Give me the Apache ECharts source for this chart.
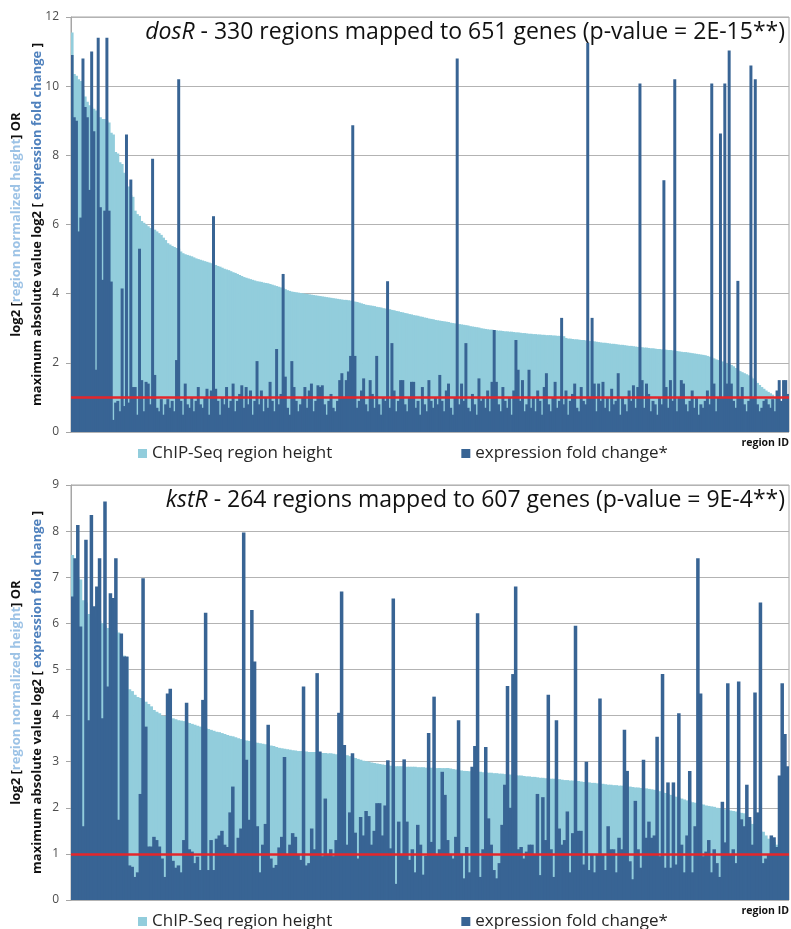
<!DOCTYPE html>
<html><head><meta charset="utf-8">
<script src="https://cdn.jsdelivr.net/npm/echarts@6/dist/echarts.min.js"></script>
<style>html,body{margin:0;padding:0;background:#fff}#c{width:791px;height:929px}</style>
</head><body><div id="c"></div>
<script>
// ---- dosR panel ----
const dosRHeight = [
11.55,10.35,10.3,10.2,10.15,9.9,9.7,9.55,9.45,9.4,
9.35,9.3,9.1,9.1,9.05,9.05,9.0,8.95,8.65,8.6,
8.1,8.05,7.8,7.75,7.5,7.45,7.1,6.85,6.8,6.4,
6.3,6.25,6.1,6.05,6.0,5.95,5.9,5.88,5.85,5.8,
5.75,5.7,5.62,5.55,5.46,5.42,5.38,5.35,5.32,5.3,
5.22,5.17,5.14,5.12,5.1,5.08,5.05,5.02,5.0,4.98,
4.96,4.94,4.92,4.9,4.88,4.86,4.83,4.8,4.78,4.75,
4.72,4.7,4.68,4.65,4.62,4.6,4.57,4.54,4.51,4.48,
4.46,4.44,4.42,4.4,4.38,4.36,4.35,4.34,4.32,4.31,
4.3,4.28,4.26,4.24,4.22,4.2,4.18,4.16,4.13,4.1,
4.08,4.06,4.05,4.04,4.03,4.02,4.01,4.0,3.99,3.98,
3.97,3.96,3.95,3.94,3.93,3.92,3.91,3.9,3.89,3.88,
3.87,3.86,3.85,3.84,3.83,3.82,3.82,3.81,3.8,3.79,
3.77,3.76,3.74,3.72,3.7,3.68,3.67,3.66,3.65,3.64,
3.62,3.61,3.6,3.58,3.57,3.56,3.55,3.53,3.52,3.5,
3.49,3.47,3.46,3.44,3.43,3.41,3.4,3.38,3.37,3.36,
3.34,3.33,3.31,3.3,3.28,3.27,3.26,3.24,3.23,3.22,
3.21,3.2,3.19,3.18,3.16,3.15,3.14,3.13,3.12,3.11,
3.1,3.09,3.08,3.06,3.05,3.04,3.03,3.02,3.0,2.99,
2.98,2.97,2.96,2.96,2.95,2.94,2.93,2.93,2.92,2.91,
2.91,2.9,2.9,2.89,2.88,2.88,2.87,2.86,2.86,2.85,
2.84,2.84,2.83,2.83,2.82,2.82,2.81,2.81,2.8,2.8,
2.8,2.79,2.79,2.78,2.78,2.78,2.77,2.72,2.7,2.7,
2.69,2.68,2.68,2.67,2.66,2.66,2.65,2.64,2.63,2.63,
2.62,2.61,2.6,2.59,2.58,2.58,2.57,2.56,2.55,2.55,
2.54,2.53,2.52,2.52,2.51,2.5,2.49,2.49,2.48,2.47,
2.46,2.46,2.45,2.44,2.44,2.43,2.42,2.42,2.41,2.4,
2.4,2.39,2.39,2.38,2.37,2.37,2.36,2.35,2.34,2.33,
2.32,2.31,2.31,2.3,2.29,2.28,2.27,2.26,2.25,2.24,
2.23,2.22,2.2,2.18,2.16,2.13,2.1,2.08,2.06,2.04,
2.01,1.98,1.96,1.94,1.9,1.85,1.8,1.76,1.73,1.7,
1.67,1.64,1.6,1.55,1.48,1.42,1.36,1.3,1.25,1.2,
1.16,1.12,1.08,1.0,0.95,0.9,0.85,0.8,0.75,0.7
];
const dosRExpr = [
10.9,9.1,9.0,5.8,6.2,10.8,9.4,9.1,7.0,11.0,
8.7,1.8,11.4,6.5,4.4,6.4,11.4,6.4,4.35,0.35,
0.85,0.9,0.6,4.15,0.75,8.6,0.85,7.3,1.3,1.3,
0.5,5.3,1.5,0.6,1.45,1.4,0.8,7.9,1.65,0.7,
0.6,0.95,0.5,0.8,0.95,0.7,0.9,0.6,2.08,10.2,
0.9,0.5,1.4,0.8,0.7,1.0,0.6,0.9,1.3,0.8,
0.7,1.0,1.25,0.5,1.2,6.24,1.25,0.9,0.5,1.0,
0.8,1.3,0.7,0.9,1.4,0.6,0.9,1.1,1.35,0.7,
1.3,0.8,1.2,0.5,0.9,2.05,0.8,1.2,0.6,1.0,
0.7,1.45,0.9,0.6,2.4,0.8,1.1,4.57,1.6,0.7,
0.5,2.05,1.3,0.9,0.6,0.8,1.0,1.3,0.7,1.2,
1.4,0.6,0.9,1.35,1.3,1.35,0.8,0.5,0.9,1.1,
0.7,0.6,0.9,1.5,1.7,1.0,1.5,1.75,2.2,8.87,
2.2,0.7,0.9,1.2,1.55,0.8,0.6,1.5,1.1,0.7,
2.2,0.8,0.5,1.0,0.9,4.36,0.7,2.57,1.2,0.6,
0.9,1.5,1.5,0.8,0.6,1.0,1.45,1.45,0.7,0.9,
0.5,1.3,0.8,0.6,1.5,0.9,0.7,1.0,0.8,1.65,
0.9,0.6,1.2,1.4,0.7,0.5,1.0,10.8,0.8,1.4,
0.9,2.57,0.7,0.6,1.1,0.8,0.5,1.55,0.9,1.0,
0.7,1.2,0.6,1.45,2.95,1.45,0.8,0.6,1.3,0.9,
0.7,1.0,0.5,1.2,2.66,1.8,0.9,1.5,0.6,0.8,
1.8,0.7,1.0,0.6,1.2,0.9,0.5,1.3,1.7,0.8,
0.6,1.0,1.45,0.7,0.9,3.3,0.8,1.2,0.5,0.9,
1.1,1.4,0.7,0.6,1.3,0.9,0.8,11.25,1.0,3.3,
1.4,0.6,1.4,0.9,1.45,0.7,1.0,0.6,1.25,0.8,
0.9,1.7,0.5,1.0,0.8,0.6,1.2,0.9,1.35,0.7,
1.3,10.08,1.5,0.7,1.4,1.1,0.6,0.9,0.8,0.5,
1.0,0.8,7.28,1.3,0.7,1.5,0.9,10.2,0.6,1.0,
1.5,1.4,0.8,0.6,0.9,1.2,0.7,1.0,0.5,0.8,
0.7,0.9,1.2,0.8,10.08,1.4,0.6,1.0,8.63,1.0,
10.08,1.4,11.03,1.4,0.9,0.7,4.37,1.0,1.3,0.8,
0.6,0.9,10.6,1.0,10.2,0.8,0.6,0.7,0.9,0.95,
0.8,0.7,0.95,0.6,1.2,1.5,0.9,1.5,1.5,1.1
];
// ---- kstR panel ----
const kstRHeight = [
7.48,7.05,7.0,6.95,6.5,6.45,6.2,6.18,6.15,6.1,
6.05,6.0,5.95,5.9,5.88,5.86,5.85,5.8,5.35,5.3,
5.27,4.57,4.53,4.45,4.4,4.38,4.33,4.3,4.25,4.2,
4.12,4.08,4.05,4.0,3.99,3.98,3.97,3.94,3.92,3.9,
3.89,3.88,3.86,3.84,3.82,3.8,3.78,3.76,3.75,3.73,
3.71,3.69,3.67,3.65,3.64,3.62,3.6,3.58,3.56,3.55,
3.53,3.51,3.49,3.47,3.46,3.45,3.43,3.42,3.41,3.4,
3.39,3.38,3.36,3.35,3.34,3.32,3.3,3.29,3.28,3.27,
3.26,3.25,3.24,3.23,3.23,3.22,3.22,3.21,3.21,3.21,
3.2,3.2,3.19,3.19,3.18,3.18,3.17,3.16,3.16,3.15,
3.15,3.14,3.12,3.1,3.08,3.06,3.04,3.02,3.01,3.0,
2.98,2.97,2.96,2.95,2.94,2.93,2.92,2.91,2.91,2.9,
2.9,2.9,2.89,2.89,2.89,2.89,2.89,2.88,2.88,2.88,
2.87,2.87,2.87,2.87,2.86,2.86,2.86,2.86,2.86,2.85,
2.84,2.83,2.82,2.81,2.8,2.8,2.79,2.79,2.78,2.78,
2.78,2.77,2.77,2.76,2.76,2.75,2.75,2.74,2.74,2.73,
2.73,2.72,2.72,2.71,2.7,2.7,2.69,2.68,2.68,2.67,
2.67,2.66,2.65,2.65,2.64,2.64,2.63,2.63,2.62,2.62,
2.61,2.6,2.6,2.59,2.59,2.58,2.58,2.57,2.56,2.56,
2.55,2.54,2.54,2.53,2.52,2.52,2.51,2.5,2.5,2.49,
2.49,2.48,2.48,2.47,2.46,2.46,2.45,2.44,2.44,2.43,
2.42,2.42,2.41,2.4,2.39,2.38,2.36,2.34,2.32,2.3,
2.28,2.26,2.24,2.22,2.2,2.18,2.16,2.14,2.12,2.11,
2.1,2.08,2.07,2.05,2.04,2.03,2.02,2.0,1.99,1.98,
1.97,1.96,1.94,1.93,1.92,1.9,1.89,1.88,1.8,1.72,
1.65,1.58,1.52,1.5,1.48,1.4,1.33,1.28,1.26,1.2,
1.15,1.1,1.05,1.0
];
const kstRExpr = [
6.58,7.41,8.13,5.93,1.6,7.81,3.9,8.35,6.37,6.8,
7.41,3.94,8.64,4.63,6.65,6.55,7.41,1.74,5.78,5.28,
5.28,0.75,0.72,0.5,0.6,2.3,6.98,3.76,1.16,1.16,
1.37,1.3,1.16,0.9,0.5,4.48,4.58,0.85,0.7,0.75,
0.6,1.3,4.28,1.1,1.05,0.8,0.94,0.65,4.34,6.23,
0.65,1.3,0.65,1.33,1.4,1.5,1.2,1.15,1.9,2.46,
1.0,1.35,1.55,7.97,3.04,1.74,6.29,5.17,1.6,0.6,
1.2,1.65,3.8,0.9,0.7,0.76,1.14,1.37,3.1,1.0,
1.2,1.45,1.37,1.0,0.87,4.63,0.75,0.8,1.55,1.1,
4.92,3.22,0.95,2.2,1.0,1.1,0.95,1.3,4.06,6.69,
3.36,1.2,1.9,3.18,1.46,0.9,1.8,1.4,1.93,1.82,
1.2,1.5,2.1,2.1,1.4,2.05,3.03,1.12,6.54,0.35,
1.7,1.0,3.05,1.7,0.87,1.1,0.6,1.63,1.2,0.55,
0.96,3.62,1.26,4.41,1.0,1.1,2.78,2.28,1.3,1.0,
0.9,1.37,3.9,1.0,0.47,1.15,0.6,2.89,3.34,6.22,
0.5,1.1,3.32,1.77,1.2,0.65,0.47,0.8,1.63,2.5,
4.64,2.0,4.9,6.8,1.1,1.15,0.9,1.05,1.2,1.2,
1.0,2.3,0.54,2.23,1.3,4.45,1.1,0.5,3.9,1.55,
1.2,1.3,1.92,0.6,1.45,5.95,1.5,1.5,0.77,3.0,
0.65,1.0,0.6,1.0,4.37,1.0,0.65,1.6,1.1,1.1,
0.6,1.35,1.1,3.69,2.8,0.84,0.45,2.15,1.1,0.7,
3.04,1.35,1.7,1.35,1.4,3.54,0.95,4.9,0.7,2.55,
0.7,2.55,0.77,4.05,1.2,0.6,1.4,2.8,0.6,1.6,
7.41,4.48,0.95,1.05,1.3,0.6,1.1,0.8,0.5,2.13,
1.25,4.7,1.0,1.1,0.8,4.74,1.75,1.6,2.5,1.8,
1.2,4.5,1.9,6.45,0.8,0.9,1.0,1.4,1.36,1.15,
2.7,4.7,3.6,2.9
];
const seriesNames = ['ChIP-Seq region height', 'expression fold change*'];
const yMax = [12, 9];
const yInterval = [2, 1];
const thresholdValue = 1;
const panelGene = ['dosR', 'kstR'];
const panelRest = [' - 330 regions mapped to 651 genes (p-value = 2E-15**)', ' - 264 regions mapped to 607 genes (p-value = 9E-4**)'];

const LIGHT = '#92CDDC', DARK = '#386494', RED = '#E5262B', GRAY = '#A6A6A6';
const FONT = '"Open Sans", "Noto Sans", sans-serif';
const panels = [
  {h: dosRHeight, e: dosRExpr, top: 17},
  {h: kstRHeight, e: kstRExpr, top: 485}
];
const PH = 415, PL = 71, PW = 718;

const grids = [], xAxes = [], yAxes = [], series = [], graphics = [], legends = [];
panels.forEach((p, k) => {
  const bw = PW / p.h.length + 0.8;
  grids.push({left: PL, top: p.top, width: PW, height: PH, show: true, borderColor: GRAY, borderWidth: 1, backgroundColor: 'transparent'});
  xAxes.push({type: 'category', gridIndex: k, data: p.h.map((_, i) => i + 1), boundaryGap: true,
    axisLine: {show: false}, axisTick: {show: false}, axisLabel: {show: false}, splitLine: {show: false}});
  yAxes.push({type: 'value', gridIndex: k, min: 0, max: yMax[k], interval: yInterval[k],
    axisLine: {show: true, lineStyle: {color: GRAY}}, axisTick: {show: true, length: 5, lineStyle: {color: GRAY}},
    axisLabel: {color: '#4D4D4D', fontSize: 12, fontFamily: FONT, margin: 12},
    splitLine: {show: true, lineStyle: {color: '#B3B3B3', width: 1}}});
  series.push({type: 'bar', name: seriesNames[0], xAxisIndex: k, yAxisIndex: k, data: p.h,
    itemStyle: {color: LIGHT}, barWidth: bw, barGap: '-100%', z: 2, animation: false, silent: true});
  series.push({type: 'bar', name: seriesNames[1], xAxisIndex: k, yAxisIndex: k, data: p.e,
    itemStyle: {color: DARK}, barWidth: bw, barGap: '-100%', z: 3, animation: false, silent: true,
    markLine: {silent: true, symbol: ['none', 'none'], animation: false, label: {show: false},
      lineStyle: {color: RED, width: 2.5, type: 'solid'}, data: [{yAxis: thresholdValue}]}});
  legends.push({left: 133, top: p.top + PH + 8, itemWidth: 9, itemHeight: 9, itemGap: 129, icon: 'rect',
    selectedMode: false, textStyle: {fontSize: 17, color: '#262626', fontFamily: FONT},
    data: seriesNames});
  graphics.push({type: 'text', right: 6, top: p.top + 4, z: 10,
    style: {text: '{g|' + panelGene[k] + '}{r|' + panelRest[k] + '}',
      rich: {g: {fontStyle: 'italic', fontSize: 23, fontFamily: FONT, fill: '#111'},
             r: {fontSize: 23, fontFamily: FONT, fill: '#111'}}}});
  graphics.push({type: 'text', x: 27, y: p.top + PH / 2, rotation: Math.PI / 2, z: 10,
    style: {text: '{k|log2 [}{l|region normalized height}{k|] OR}\n{k|maximum absolute value log2 [ }{d|expression fold change}{k| ]}',
      align: 'center', verticalAlign: 'middle',
      rich: {k: {fontSize: 13, fontWeight: 'bold', fontFamily: FONT, fill: '#111', lineHeight: 21, align: 'center'},
             l: {fontSize: 13, fontWeight: 'bold', fontFamily: FONT, fill: '#9DC3E6', lineHeight: 21, align: 'center'},
             d: {fontSize: 13, fontWeight: 'bold', fontFamily: FONT, fill: '#4F81BD', lineHeight: 21, align: 'center'}}}});
  graphics.push({type: 'text', right: 2, top: p.top + PH + 6, z: 10,
    style: {text: 'region ID', font: 'bold 10.5px ' + FONT, fill: '#111'}});
});

const chart = echarts.init(document.getElementById('c'), null, {renderer: 'canvas'});
chart.setOption({
  animation: false,
  backgroundColor: '#fff',
  grid: grids, xAxis: xAxes, yAxis: yAxes, series: series, legend: legends, graphic: graphics
});
</script></body></html>
